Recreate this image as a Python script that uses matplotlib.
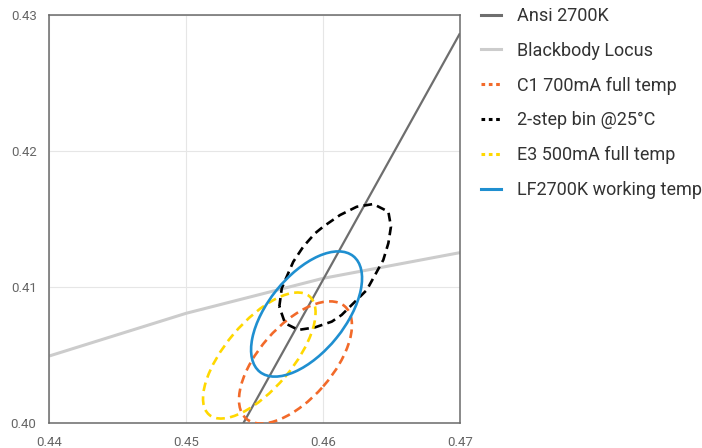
import matplotlib
matplotlib.use("Agg")
import matplotlib.pyplot as plt
from matplotlib.patches import Ellipse
from matplotlib.lines import Line2D

# ---- data ----
ansi_x = [0.45418, 0.470]
ansi_y = [0.400, 0.42866]

bb_x = [0.44, 0.45, 0.46, 0.47]
bb_y = [0.40494, 0.40808, 0.41065, 0.41254]

# ellipses: center x, center y, full major, full minor, angle (deg)
c1_ellipse = dict(cx=0.45799, cy=0.40447, major=0.01095, minor=0.00536, angle=49.0)
e3_ellipse = dict(cx=0.45535, cy=0.40498, major=0.01137, minor=0.00490, angle=50.0)
lf_ellipse = dict(cx=0.45880, cy=0.40803, major=0.01090, minor=0.00561, angle=51.3)

step2_x = [0.45681, 0.45699, 0.45735, 0.45783, 0.45856, 0.45942, 0.46002, 0.46124,
           0.46246, 0.46367, 0.46477, 0.46496, 0.46477, 0.46440, 0.46380, 0.46319,
           0.46246, 0.46136, 0.46064, 0.45942, 0.45820, 0.45723, 0.45681]
step2_y = [0.40857, 0.40992, 0.41077, 0.41187, 0.41298, 0.41396, 0.41445, 0.41530,
           0.41591, 0.41611, 0.41555, 0.41445, 0.41323, 0.41200, 0.41090, 0.40979,
           0.40906, 0.40796, 0.40747, 0.40705, 0.40686, 0.40735, 0.40857]

xticks = [0.44, 0.45, 0.46, 0.47]
yticks = [0.40, 0.41, 0.42, 0.43]

labels = ["Ansi 2700K", "Blackbody Locus", "C1 700mA full temp",
          "2-step bin @25°C", "E3 500mA full temp", "LF2700K working temp"]

# ---- styles ----
c_ansi = "#6e6e6e"
c_bb = "#cccccc"
c_c1 = "#f26a2a"
c_2s = "#000000"
c_e3 = "#ffd800"
c_lf = "#1f8fd0"
dash = (0, (3.3, 2))

fig = plt.figure(figsize=(7.02, 4.48), dpi=100)
ax = fig.add_axes([49/702, (448-423.3)/448, (460-49)/702, (423.3-15)/448])

ax.plot(bb_x, bb_y, color=c_bb, lw=2.2, zorder=2, solid_capstyle="butt")
ax.plot(ansi_x, ansi_y, color=c_ansi, lw=1.6, zorder=3, solid_capstyle="butt")

def add_ell(p, color, ls):
    e = Ellipse((p["cx"], p["cy"]), p["major"], p["minor"], angle=p["angle"],
                fill=False, edgecolor=color, lw=1.9, linestyle=ls, zorder=4)
    ax.add_patch(e)

add_ell(c1_ellipse, c_c1, dash)
ax.plot(step2_x, step2_y, color=c_2s, lw=1.9, linestyle=dash, zorder=4)
add_ell(e3_ellipse, c_e3, dash)
add_ell(lf_ellipse, c_lf, "-")

ax.set_xlim(0.44, 0.47)
ax.set_ylim(0.40, 0.43)
ax.set_xticks(xticks)
ax.set_yticks(yticks)
ax.set_xticklabels([f"{v:.2f}" for v in xticks])
ax.set_yticklabels([f"{v:.2f}" for v in yticks])
ax.tick_params(length=0, labelsize=9.5, labelcolor="#666666", pad=9)
for lab in ax.get_xticklabels() + ax.get_yticklabels():
    lab.set_fontfamily(["Roboto", "DejaVu Sans"])
ax.grid(True, color="#e6e6e6", lw=0.8, zorder=0)
ax.set_axisbelow(True)
for s in ax.spines.values():
    s.set_color("#6a6a6a")
    s.set_linewidth(1.1)

handles = [
    Line2D([], [], color=c_ansi, lw=2.2),
    Line2D([], [], color=c_bb, lw=2.2),
    Line2D([], [], color=c_c1, lw=2.2, linestyle=(0, (1.2, 1.2))),
    Line2D([], [], color=c_2s, lw=2.2, linestyle=(0, (1.2, 1.2))),
    Line2D([], [], color=c_e3, lw=2.2, linestyle=(0, (1.2, 1.2))),
    Line2D([], [], color=c_lf, lw=2.2),
]
leg = fig.legend(handles, labels, loc="upper left", bbox_to_anchor=(481/702, 1 - 7/448),
                 frameon=False, borderpad=0, borderaxespad=0, handlelength=1.1,
                 handletextpad=0.9, labelspacing=0.93,
                 prop=dict(family=["Roboto", "DejaVu Sans"], size=13))
for t in leg.get_texts():
    t.set_color("#333333")

fig.savefig("out.png", dpi=100)
